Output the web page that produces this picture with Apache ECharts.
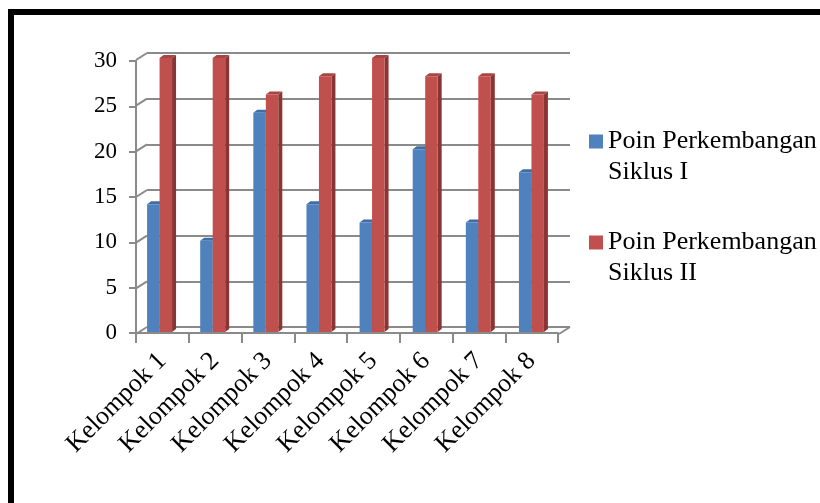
<!DOCTYPE html>
<html>
<head>
<meta charset="utf-8">
<script src="https://cdn.jsdelivr.net/npm/echarts@6/dist/echarts.min.js"></script>
<style>html,body{margin:0;padding:0;background:#fff;}#c{width:820px;height:503px;}</style>
</head>
<body>
<div id="c"></div>
<script>
const categories = ['Kelompok 1','Kelompok 2','Kelompok 3','Kelompok 4','Kelompok 5','Kelompok 6','Kelompok 7','Kelompok 8'];
const seriesNames = ['Poin Perkembangan Siklus I','Poin Perkembangan Siklus II'];
const siklus1 = [14, 10, 24, 14, 12, 20, 12, 17.5];
const siklus2 = [30, 30, 26, 28, 30, 28, 28, 26];
const yTicks = [0, 5, 10, 15, 20, 25, 30];

const FONT = "'Liberation Serif', 'Times New Roman', serif";
const GRID_GREY = '#8a8a8a';

function barRenderer(side, front, sideCol, topCol) {
  return function (params, api) {
    const idx = api.value(0);
    const val = api.value(1);
    const top = api.coord([idx, val]);
    const base = api.coord([idx, 0]);
    const band = api.size([1, 0])[0];
    const w = band * 0.235;
    const x0 = side < 0 ? top[0] - w : top[0];
    const x1 = x0 + w;
    const yT = top[1], yB = base[1];
    const dx = 4, dy = 3;
    return {
      type: 'group',
      children: [
        { type: 'polygon', shape: { points: [[x1, yT], [x1 + dx, yT - dy], [x1 + dx, yB - dy], [x1, yB]] }, style: { fill: sideCol } },
        { type: 'polygon', shape: { points: [[x0, yT], [x1, yT], [x1 + dx, yT - dy], [x0 + dx, yT - dy]] }, style: { fill: topCol } },
        { type: 'rect', shape: { x: x0, y: yT, width: w, height: yB - yT }, style: { fill: front } }
      ]
    };
  };
}

const chart = echarts.init(document.getElementById('c'), null, { renderer: 'canvas' });
chart.setOption({
  animation: false,
  backgroundColor: '#ffffff',
  graphic: [{
    type: 'polyline',
    shape: { points: [[11, 520], [11, 12], [840, 12]] },
    style: { stroke: '#000', lineWidth: 6, fill: null },
    z: 100
  }],
  legend: {
    data: seriesNames,
    orient: 'vertical',
    left: 589,
    top: 95,
    padding: 0,
    itemGap: 8,
    itemWidth: 14,
    itemHeight: 14,
    icon: 'rect',
    formatter: function (n) { return ' \n' + n.replace(' Siklus', '\nSiklus'); },
    textStyle: { fontFamily: FONT, fontSize: 26, color: '#000', lineHeight: 31 }
  },
  grid: [
    { left: 136, right: 262, top: 61, bottom: 170 },   // front axes
    { left: 147, right: 250, top: 53, bottom: 176 },   // back wall
    { left: 133, width: 425, top: 58, bottom: 171 }    // bars
  ],
  xAxis: [
    {
      gridIndex: 0, type: 'category', data: categories, boundaryGap: true,
      axisLine: { show: true, lineStyle: { color: GRID_GREY, width: 2 } },
      axisTick: { show: true, length: 10, interval: 0, lineStyle: { color: GRID_GREY, width: 2 } },
      axisLabel: { interval: 0, rotate: 45, margin: 24, fontFamily: FONT, fontSize: 26, color: '#000' },
      splitLine: { show: false }
    },
    { gridIndex: 1, type: 'value', min: 0, max: 1, show: false },
    { gridIndex: 2, type: 'category', data: categories, boundaryGap: true, show: false }
  ],
  yAxis: [
    {
      gridIndex: 0, type: 'value', min: 0, max: 30, interval: 5,
      axisLine: { show: true, lineStyle: { color: GRID_GREY, width: 2 } },
      axisTick: { show: true, length: 7, lineStyle: { color: GRID_GREY, width: 2 } },
      axisLabel: { margin: 19, fontFamily: FONT, fontSize: 23, color: '#000' },
      splitLine: { show: false }
    },
    {
      gridIndex: 1, type: 'value', min: 0, max: 30, interval: 5,
      axisLine: { show: false }, axisTick: { show: false }, axisLabel: { show: false },
      splitLine: { show: true, lineStyle: { color: GRID_GREY, width: 2 } }
    },
    { gridIndex: 2, type: 'value', min: 0, max: 30, show: false }
  ],
  series: [
    {
      name: 'connectors', type: 'custom', xAxisIndex: 1, yAxisIndex: 1, z: 1, silent: true,
      data: yTicks.map(v => [0, v]).concat([[1, 0]]),
      renderItem: function (params, api) {
        const p = api.coord([api.value(0), api.value(1)]);
        return { type: 'line', shape: { x1: p[0] - 11, y1: p[1] + 7, x2: p[0], y2: p[1] }, style: { stroke: GRID_GREY, lineWidth: 2 } };
      }
    },
    {
      name: seriesNames[0], type: 'custom', xAxisIndex: 2, yAxisIndex: 2, z: 5,
      itemStyle: { color: '#4F81BD' },
      data: siklus1.map((v, i) => [i, v]),
      renderItem: barRenderer(-1, '#4F81BD', '#36598A', '#3F6DA6')
    },
    {
      name: seriesNames[1], type: 'custom', xAxisIndex: 2, yAxisIndex: 2, z: 5,
      itemStyle: { color: '#C0504D' },
      data: siklus2.map((v, i) => [i, v]),
      renderItem: barRenderer(1, '#C0504D', '#8A3533', '#A84542')
    }
  ]
});
</script>
</body>
</html>
